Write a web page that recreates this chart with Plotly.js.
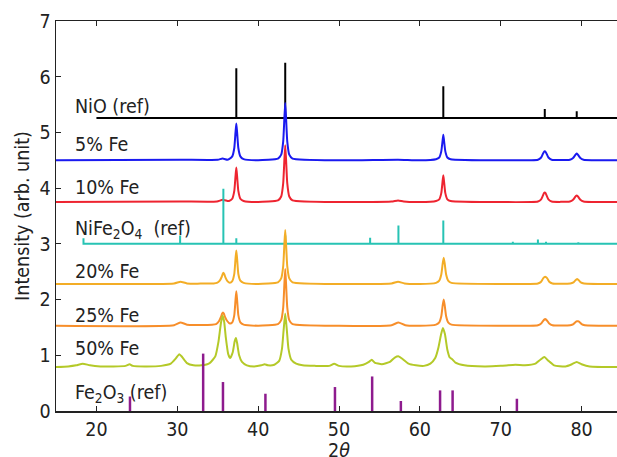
<!DOCTYPE html>
<html>
<head>
<meta charset="utf-8">
<script src="https://cdn.plot.ly/plotly-3.0.1.min.js"></script>
<style>
html,body{margin:0;padding:0;overflow:hidden;background:#fff;}
#chart{width:640px;height:457px;}
</style>
</head>
<body>
<div id="chart"></div>
<script>
// ---- Reference stick patterns ----
const nioPos = [37.3, 43.35, 62.9, 75.45, 79.4];
const nioHeight = [6.15, 6.25, 5.83, 5.42, 5.38];
const nioBase = 5.26;
const nioStart = 20.0;

const nfoPos = [18.4, 30.35, 35.7, 37.3, 43.35, 47.5, 53.85, 57.35, 62.9, 66.3, 71.5, 74.6, 75.6, 79.6];
const nfoHeight = [3.1, 3.15, 3.99, 3.1, 3.15, 3.02, 3.11, 3.33, 3.42, 3.02, 3.04, 3.08, 3.04, 3.03];
const nfoBase = 3.0;
const nfoStart = 18.3;

const hemPos = [24.15, 33.2, 35.65, 40.9, 49.5, 54.1, 57.65, 62.5, 64.05, 72.0];
const hemHeight = [0.26, 1.03, 0.52, 0.31, 0.43, 0.62, 0.18, 0.37, 0.37, 0.22];

// ---- Measured patterns ----
const fe5X = [15,30.3,35.0,35.6,36.2,36.4,36.8,37.05,37.2,37.3,37.4,37.55,37.8,38.2,40,42.45,42.85,43.1,43.25,43.35,43.45,43.6,43.85,44.25,50,57.3,60,62.0,62.4,62.65,62.8,62.9,63.0,63.15,63.4,63.8,70,74.6,75.0,75.2,75.35,75.45,75.55,75.7,75.9,76.3,78.55,78.95,79.15,79.3,79.4,79.5,79.65,79.85,80.25,85];
const fe5Y = [4.50,4.51,4.51,4.53,4.51,4.52,4.57,4.72,5.00,5.16,5.00,4.72,4.57,4.52,4.50,4.53,4.60,4.84,5.27,5.53,5.27,4.84,4.60,4.53,4.50,4.51,4.50,4.52,4.55,4.66,4.84,4.96,4.84,4.66,4.55,4.52,4.50,4.51,4.55,4.61,4.65,4.66,4.65,4.61,4.55,4.51,4.51,4.54,4.58,4.61,4.62,4.61,4.58,4.54,4.51,4.50];

const fe10X = [15,30.3,34.9,35.6,36.2,36.4,36.8,37.05,37.2,37.3,37.4,37.55,37.8,38.2,40,42.45,42.85,43.1,43.25,43.35,43.45,43.6,43.85,44.25,50,56.5,57.3,58.0,60,62.0,62.4,62.65,62.8,62.9,63.0,63.15,63.4,63.8,70,74.6,75.0,75.2,75.35,75.45,75.55,75.7,75.9,76.3,78.55,78.95,79.15,79.3,79.4,79.5,79.65,79.85,80.25,85];
const fe10Y = [3.75,3.76,3.76,3.79,3.77,3.77,3.81,3.95,4.21,4.37,4.21,3.95,3.81,3.77,3.75,3.78,3.85,4.09,4.52,4.77,4.52,4.09,3.85,3.78,3.75,3.76,3.78,3.76,3.75,3.77,3.80,3.91,4.11,4.23,4.11,3.91,3.80,3.77,3.75,3.76,3.80,3.86,3.91,3.92,3.91,3.86,3.80,3.76,3.76,3.79,3.83,3.86,3.87,3.86,3.83,3.79,3.76,3.75];

const fe20X = [15,29.6,30.4,31.2,34.5,34.9,35.25,35.5,35.62,35.7,35.8,35.95,36.2,36.5,36.8,37.05,37.2,37.3,37.4,37.55,37.8,38.2,40,42.45,42.85,43.1,43.25,43.35,43.45,43.6,43.85,44.25,50,56.5,57.3,58.1,60,62.0,62.4,62.65,62.82,62.95,63.08,63.25,63.5,63.9,70,74.6,75.0,75.2,75.38,75.5,75.62,75.8,76.0,76.4,78.6,79.0,79.2,79.35,79.45,79.55,79.7,79.9,80.3,85];
const fe20Y = [2.28,2.29,2.32,2.29,2.29,2.30,2.34,2.41,2.46,2.48,2.46,2.40,2.33,2.30,2.33,2.46,2.73,2.88,2.73,2.46,2.34,2.30,2.28,2.31,2.38,2.60,3.01,3.25,3.01,2.60,2.38,2.31,2.28,2.29,2.32,2.29,2.28,2.30,2.34,2.45,2.64,2.75,2.64,2.45,2.34,2.30,2.28,2.29,2.32,2.37,2.40,2.41,2.40,2.37,2.32,2.29,2.29,2.31,2.34,2.36,2.37,2.36,2.34,2.31,2.29,2.28];

const fe25X = [15,29.6,30.4,31.2,34.3,34.8,35.15,35.4,35.55,35.65,35.75,35.9,36.15,36.5,36.8,37.05,37.2,37.3,37.4,37.55,37.8,38.2,40,42.45,42.85,43.1,43.25,43.35,43.45,43.6,43.85,44.25,50,56.5,57.35,58.2,60,62.0,62.4,62.65,62.82,62.95,63.08,63.25,63.5,63.9,70,74.6,75.0,75.2,75.38,75.5,75.62,75.8,76.0,76.4,78.6,79.0,79.2,79.4,79.5,79.6,79.8,80.0,80.4,85];
const fe25Y = [1.53,1.54,1.59,1.55,1.55,1.56,1.61,1.69,1.75,1.77,1.75,1.69,1.62,1.57,1.59,1.72,1.99,2.15,1.99,1.72,1.59,1.55,1.53,1.56,1.63,1.86,2.29,2.55,2.29,1.86,1.63,1.56,1.53,1.54,1.59,1.54,1.53,1.55,1.59,1.70,1.89,2.00,1.89,1.70,1.59,1.55,1.53,1.54,1.57,1.61,1.64,1.65,1.64,1.61,1.57,1.54,1.54,1.56,1.59,1.61,1.61,1.61,1.59,1.56,1.54,1.53];

const fe50X = [15,16.5,17.5,18.3,19.2,20.5,22,23.6,24.1,24.5,26,28,29.2,29.8,30.25,30.6,31.2,32.0,33.0,34.0,34.7,35.1,35.4,35.6,35.8,36.0,36.3,36.55,36.85,37.1,37.25,37.4,37.65,38.0,38.6,39.5,40.4,40.8,41.2,42.0,42.6,42.95,43.15,43.35,43.55,43.75,44.1,44.7,45.5,47,48.8,49.4,50.0,51.5,53.0,53.7,54.05,54.4,55.3,56.3,56.9,57.4,57.9,58.6,59.5,60.5,61.3,61.9,62.3,62.6,62.85,63.1,63.4,63.7,64.0,64.4,65.5,68,70,71.8,73,74.3,74.9,75.4,75.9,76.6,78,78.8,79.4,80.0,81,85];
const fe50Y = [0.79,0.80,0.82,0.85,0.82,0.80,0.80,0.81,0.84,0.81,0.80,0.81,0.85,0.94,1.02,0.97,0.86,0.82,0.82,0.86,0.98,1.25,1.58,1.71,1.60,1.32,1.02,0.95,1.05,1.25,1.31,1.22,1.00,0.88,0.82,0.80,0.82,0.84,0.82,0.83,0.90,1.12,1.45,1.75,1.45,1.12,0.92,0.85,0.82,0.81,0.81,0.85,0.81,0.80,0.83,0.88,0.92,0.87,0.84,0.88,0.96,0.98,0.93,0.85,0.82,0.81,0.85,0.95,1.14,1.36,1.49,1.38,1.10,0.96,0.93,0.87,0.82,0.80,0.81,0.83,0.82,0.85,0.92,0.97,0.90,0.82,0.80,0.84,0.88,0.84,0.80,0.79];

// ---- Labels ----
const labelText = ['NiO (ref)', '5% Fe', '10% Fe', 'NiFe<sub>2</sub>O<sub>4</sub>  (ref)', '20% Fe', '25% Fe', '50% Fe', 'Fe<sub>2</sub>O<sub>3</sub> (ref)'];
const labelY = [5.47, 4.78, 4.02, 3.25, 2.51, 1.71, 1.13, 0.31];
const labelX = 17.1;
const xTitle = '2<i>θ</i>';
const yTitle = 'Intensity (arb. unit)';

const xTicks = [20, 30, 40, 50, 60, 70, 80];
const yTicks = [0, 1, 2, 3, 4, 5, 6, 7];

const xEnd = 85;

function sticksWithBase(pos, h, base, start, end) {
  const x = [start], y = [base];
  for (let i = 0; i < pos.length; i++) {
    x.push(pos[i], pos[i], pos[i]);
    y.push(base, h[i], base);
  }
  x.push(end); y.push(base);
  return {x, y};
}
function sticksFromZero(pos, h) {
  const x = [], y = [];
  for (let i = 0; i < pos.length; i++) {
    x.push(pos[i], pos[i], null);
    y.push(0, h[i], null);
  }
  return {x, y};
}

const nio = sticksWithBase(nioPos, nioHeight, nioBase, nioStart, xEnd);
const nfo = sticksWithBase(nfoPos, nfoHeight, nfoBase, nfoStart, xEnd);
const hem = sticksFromZero(hemPos, hemHeight);

const traces = [
  {x: nio.x, y: nio.y, mode: 'lines', line: {color: '#000000', width: 2}},
  {x: fe5X, y: fe5Y, mode: 'lines', line: {color: '#1a1af0', width: 2, shape: 'spline', smoothing: 0.5}},
  {x: fe10X, y: fe10Y, mode: 'lines', line: {color: '#ee2430', width: 2, shape: 'spline', smoothing: 0.5}},
  {x: nfo.x, y: nfo.y, mode: 'lines', line: {color: '#27c3b4', width: 2}},
  {x: fe20X, y: fe20Y, mode: 'lines', line: {color: '#f3ad26', width: 2, shape: 'spline', smoothing: 0.5}},
  {x: fe25X, y: fe25Y, mode: 'lines', line: {color: '#f78e2a', width: 2, shape: 'spline', smoothing: 0.5}},
  {x: fe50X, y: fe50Y, mode: 'lines', line: {color: '#b4c928', width: 2, shape: 'spline', smoothing: 0.5}},
  {x: hem.x, y: hem.y, mode: 'lines', line: {color: '#8e1b8e', width: 2.5}, connectgaps: false}
];

const font = {family: '"DejaVu Sans Condensed", "DejaVu Sans", sans-serif', size: 19.5, color: '#222222'};

const annotations = labelText.map((t, i) => ({
  x: labelX, y: labelY[i], xref: 'x', yref: 'y', text: t,
  showarrow: false, xanchor: 'left', yanchor: 'middle', font: font
}));
annotations.push({
  x: 0.5, y: -0.1, xref: 'paper', yref: 'paper', text: xTitle,
  showarrow: false, xanchor: 'center', yanchor: 'middle', font: font
});

const layout = {
  width: 640, height: 457,
  margin: {l: 56, r: 18, t: 21, b: 46},
  paper_bgcolor: '#ffffff', plot_bgcolor: '#ffffff',
  showlegend: false,
  font: font,
  xaxis: {
    range: [15, xEnd], tickvals: xTicks, ticktext: xTicks.map(String),
    ticks: 'inside', ticklen: 5, tickwidth: 1, tickcolor: '#222',
    showline: true, linecolor: '#222', linewidth: 1.5, mirror: 'ticks',
    showgrid: false, zeroline: false
  },
  yaxis: {
    range: [0, 7], tickvals: yTicks, ticktext: yTicks.map(String),
    ticks: 'inside', ticklen: 5, tickwidth: 1, tickcolor: '#222',
    showline: true, linecolor: '#222', linewidth: 1.5, mirror: 'ticks',
    showgrid: false, zeroline: false,
    title: {text: yTitle, font: font, standoff: 4}
  },
  annotations: annotations
};

Plotly.newPlot('chart', traces, layout, {staticPlot: true, displayModeBar: false});
</script>
</body>
</html>
